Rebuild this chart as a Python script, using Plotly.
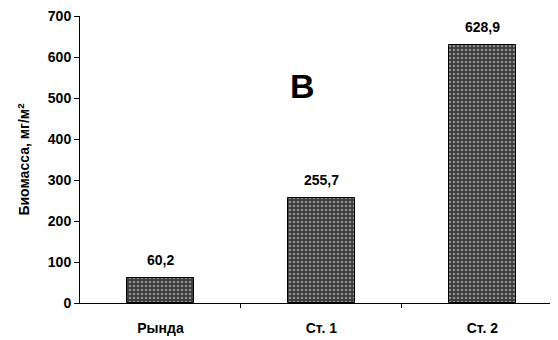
import plotly.graph_objects as go

categories = ["Рында", "Ст. 1", "Ст. 2"]
biomass = [60.2, 255.7, 628.9]
y_ticks = [0, 100, 200, 300, 400, 500, 600, 700]

labels = ["<b>" + f"{v:.1f}".replace(".", ",") + "</b>" for v in biomass]
xpos = list(range(len(categories)))

FONT = "Arial, Liberation Sans, sans-serif"

fig = go.Figure()
fig.add_trace(go.Bar(
    x=xpos, y=biomass, width=0.42,
    marker=dict(color="#3a3a3a", line=dict(color="black", width=1),
                pattern=dict(shape=".", fgcolor="#e0e0e0", bgcolor="#3a3a3a",
                             size=4, solidity=0.35)),
))

for xi, v, lab in zip(xpos, biomass, labels):
    fig.add_annotation(x=xi, y=v, text=lab, showarrow=False, yshift=18,
                       yanchor="middle",
                       font=dict(family=FONT, size=14, color="black"))

fig.add_annotation(x=0.885, y=529, text="<b>В</b>", showarrow=False,
                   font=dict(family=FONT, size=34, color="black"))

fig.update_layout(
    width=550, height=332,
    margin=dict(l=72, r=0, t=8, b=37),
    plot_bgcolor="white", paper_bgcolor="white",
    showlegend=False, bargap=0,
    font=dict(family=FONT, size=14, color="black"),
    xaxis=dict(range=[-0.5, 2.47], tickvals=xpos,
               ticktext=["<b>" + c + "</b>" for c in categories],
               ticks="", showgrid=False, zeroline=False, automargin=False,
               showline=True, linecolor="black", linewidth=1,
               tickfont=dict(family=FONT, size=14, color="black"),
               ticklabelstandoff=12, ticklabeloverflow="allow",
               minor=dict(tickvals=[0.5, 1.5], ticks="outside", ticklen=4,
                          tickcolor="black", showgrid=False)),
    yaxis=dict(range=[0, 700], tickvals=y_ticks,
               ticktext=["<b>" + str(t) + "</b>" for t in y_ticks],
               ticks="outside", ticklen=5, automargin=False,
               ticklabeloverflow="allow",
               tickcolor="black", showgrid=False, zeroline=False,
               showline=True, linecolor="black", linewidth=1,
               tickfont=dict(family=FONT, size=14, color="black"),
               title=dict(text="<b>Биомасса, мг/м<sup>2</sup></b>", standoff=14,
                          font=dict(family=FONT, size=14, color="black"))),
)

fig.write_html("out.html")
